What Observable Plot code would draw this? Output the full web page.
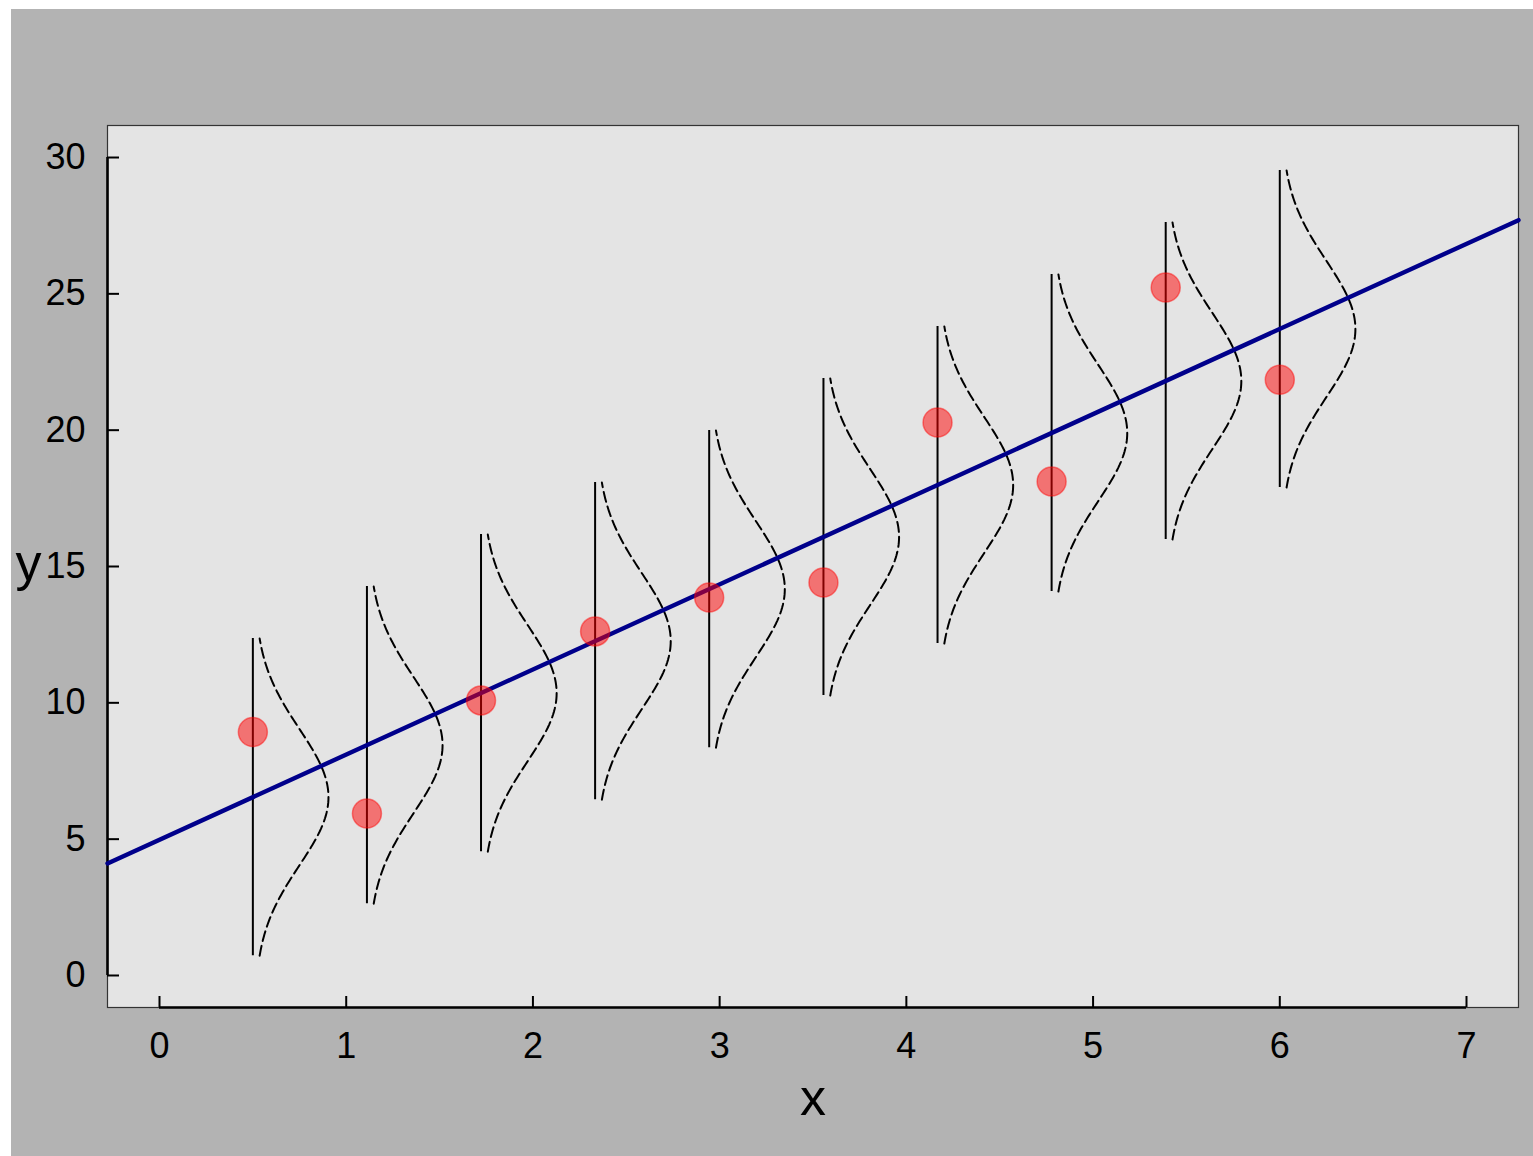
<!DOCTYPE html>
<html>
<head>
<meta charset="utf-8">
<script src="https://cdn.jsdelivr.net/npm/d3@7"></script>
<script src="https://cdn.jsdelivr.net/npm/@observablehq/plot@0.6"></script>
<style>
  html, body { margin: 0; padding: 0; background: #ffffff; }
  #page { position: relative; width: 1533px; height: 1156px; overflow: hidden; }
  #panel { position: absolute; left: 11px; top: 9px; right: 0; bottom: 0; background: #b3b3b3; }
  #chart { position: absolute; left: 0; top: 0; }
</style>
</head>
<body>
<div id="page">
  <div id="panel"></div>
  <div id="chart"></div>
</div>
<script>
// Observations: x positions and observed y values
const xObs = [0.5, 1.111, 1.722, 2.333, 2.944, 3.556, 4.167, 4.778, 5.389, 6.0];
const yObs = [8.93, 5.94, 10.09, 12.62, 13.86, 14.41, 20.28, 18.12, 25.23, 21.85];

// Regression line y = intercept + slope * x, and the noise around it
const intercept = 4.98;
const slope = 3.122;
const sigma = 2.5;
const zEdge = 2.326;       // rules and curves run from the 1% to the 99% quantile

// Sideways density curves: horizontal gap from the rule and peak width (x units)
const curveGap = 0.01;
const curvePeak = 0.395;

// Axes
const xTicks = [0, 1, 2, 3, 4, 5, 6, 7];
const yTicks = [0, 5, 10, 15, 20, 25, 30];
const xDomain = [-0.2785, 7.2785];
const yDomain = [-1.174, 31.174];

const width = 1533, height = 1156;
const margin = {top: 125, right: 15, bottom: 149, left: 107};
const frameW = width - margin.left - margin.right;
const frameH = height - margin.top - margin.bottom;

const mean = x => intercept + slope * x;

// Vertical quantile ranges at each observation
const ranges = xObs.map(x => ({x, lo: mean(x) - zEdge * sigma, hi: mean(x) + zEdge * sigma}));

// Normal density drawn sideways to the right of each range
const curves = [];
xObs.forEach((x, k) => {
  const mu = mean(x);
  const n = 120;
  for (let i = 0; i <= n; i++) {
    const z = -zEdge + (2 * zEdge * i) / n;
    curves.push({k, y: mu + z * sigma, x: x + curveGap + curvePeak * Math.exp(-z * z / 2)});
  }
});

const fitLine = xDomain.map(x => ({x, y: mean(x)}));
const points = xObs.map((x, i) => ({x, y: yObs[i]}));

const chart = Plot.plot({
  width, height,
  marginTop: margin.top, marginRight: margin.right,
  marginBottom: margin.bottom, marginLeft: margin.left,
  x: {domain: xDomain, label: null},
  y: {domain: yDomain, label: null},
  style: {background: "transparent", fontFamily: "'Liberation Sans', Arial, sans-serif", color: "black"},
  marks: [
    Plot.frame({fill: "#e4e4e4", stroke: "#333333", strokeWidth: 1.2}),
    // inward ticks
    Plot.ruleX(xTicks, {x: d => d, stroke: "black", strokeWidth: 2, insetTop: frameH - 11}),
    Plot.ruleY(yTicks, {y: d => d, stroke: "black", strokeWidth: 2, insetRight: frameW - 12}),
    // heavy spines spanning the tick range
    Plot.ruleY([yDomain[0]], {y: d => d, x1: xTicks[0], x2: xTicks[xTicks.length - 1], stroke: "black", strokeWidth: 2.6}),
    Plot.ruleX([xDomain[0]], {x: d => d, y1: yTicks[0], y2: yTicks[yTicks.length - 1], stroke: "black", strokeWidth: 2.6}),
    Plot.axisX(xTicks, {anchor: "bottom", tickSize: 0, tickPadding: 25, fontSize: 36, label: null, tickFormat: d => String(d)}),
    Plot.axisY(yTicks, {anchor: "left", tickSize: 0, tickPadding: 22, fontSize: 36, label: null, tickFormat: d => String(d)}),
    Plot.text(["x"], {text: d => d, frameAnchor: "bottom", dy: 107, fontSize: 52, textAnchor: "middle"}),
    Plot.text(["y"], {text: d => d, frameAnchor: "left", dx: -92, dy: -3, fontSize: 52, textAnchor: "start"}),
    // quantile ranges and density curves
    Plot.ruleX(ranges, {x: "x", y1: "lo", y2: "hi", stroke: "black", strokeWidth: 2}),
    Plot.line(curves, {x: "x", y: "y", z: "k", stroke: "black", strokeWidth: 2, strokeDasharray: "10,5", curve: "linear"}),
    // regression line
    Plot.line(fitLine, {x: "x", y: "y", stroke: "#00008b", strokeWidth: 4.4}),
    // observations
    Plot.dot(points, {x: "x", y: "y", r: 14.5, fill: "red", fillOpacity: 0.5, stroke: "red", strokeOpacity: 0.45, strokeWidth: 1.5})
  ]
});

document.getElementById("chart").appendChild(chart);
</script>
</body>
</html>
